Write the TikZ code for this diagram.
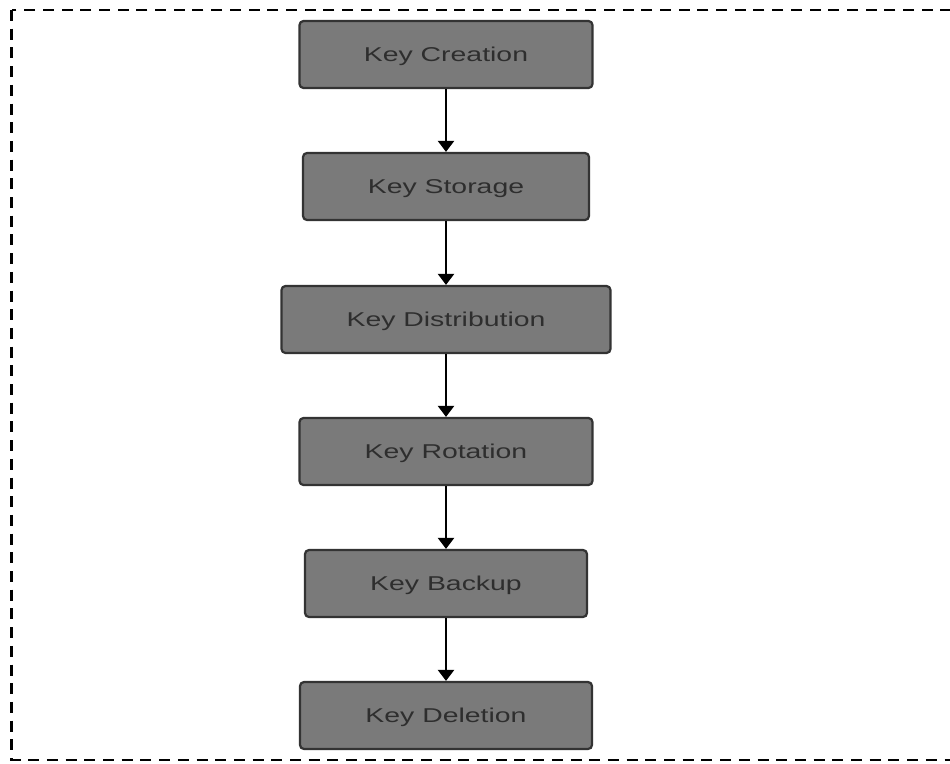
\documentclass[tikz,border=0pt]{standalone}
\usepackage{fontspec}
\setmainfont{Liberation Sans}
\usetikzlibrary{arrows.meta}
\definecolor{boxfill}{HTML}{7A7A7A}
\definecolor{boxline}{HTML}{333333}
\definecolor{boxtext}{HTML}{2E2E2E}
\tikzset{
  stagebox/.style={draw=boxline, line width=2.2pt, fill=boxfill, rounded corners=4pt,
    minimum height=67pt, text=boxtext, font=\fontsize{20}{24}\selectfont,
    text height=14.5pt, text depth=0pt},
  flowarrow/.style={draw=black, line width=2.2pt, -{Triangle[width=16pt,length=11pt]}},
  frameline/.style={draw=black, line width=2.6pt, dash pattern=on 11pt off 7.7pt}
}
\newcommand{\wide}[1]{\scalebox{1.42}[1]{#1}}
\begin{document}
\begin{tikzpicture}[x=1pt,y=-1pt]
\useasboundingbox (0,0) rectangle (950,763);
\clip (0,0) rectangle (950,763);
\fill[white] (0,0) rectangle (950,763);
\draw[frameline] (11.5,10) rectangle (975,760);
\node[stagebox, minimum width=293pt] (c) at (446,54.5) {\wide{Key Creation}};
\node[stagebox, minimum width=286pt] (s) at (446,186.5) {\wide{Key Storage}};
\node[stagebox, minimum width=329pt] (d) at (446,319.5) {\wide{Key Distribution}};
\node[stagebox, minimum width=293pt] (r) at (446,451.5) {\wide{Key Rotation}};
\node[stagebox, minimum width=282pt] (b) at (446,583.5) {\wide{Key Backup}};
\node[stagebox, minimum width=292pt] (x) at (446,715.5) {\wide{Key Deletion}};
\draw[flowarrow] (c) -- (s);
\draw[flowarrow] (s) -- (d);
\draw[flowarrow] (d) -- (r);
\draw[flowarrow] (r) -- (b);
\draw[flowarrow] (b) -- (x);
\end{tikzpicture}
\end{document}
